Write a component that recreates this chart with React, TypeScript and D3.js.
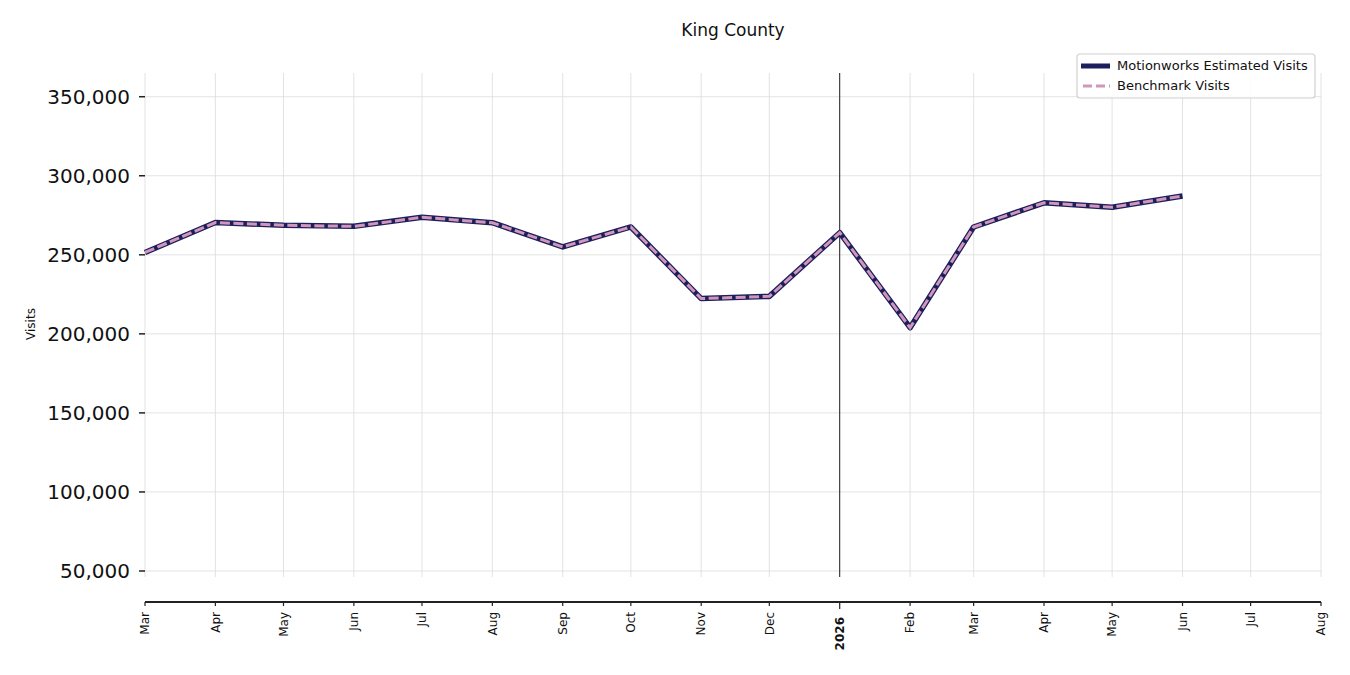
import * as d3 from 'd3';

// monthly points, Mar 2025 .. Jun 2026
const months = [
  '2025-03-01', '2025-04-01', '2025-05-01', '2025-06-01', '2025-07-01', '2025-08-01',
  '2025-09-01', '2025-10-01', '2025-11-01', '2025-12-01', '2026-01-01', '2026-02-01',
  '2026-03-01', '2026-04-01', '2026-05-01', '2026-06-01'
];
const estimatedVisits = [
  251500, 270400, 268700, 268000, 273700, 270300, 255000, 267600,
  222300, 223700, 264000, 203900, 267600, 282900, 280100, 287200
];
const benchmarkVisits = [
  251500, 270400, 268700, 268000, 273700, 270300, 255000, 267600,
  222300, 223700, 264000, 203900, 267600, 282900, 280100, 287200
];
const yTicks = [50000, 100000, 150000, 200000, 250000, 300000, 350000];

const W = 1350;
const H = 675;
const left = 145;
const right = 1321;
const top = 73;
const bottom = 577;
const axisY = 602;

const navy = '#1c1f5c';
const pink = '#d296bb';
const font = 'DejaVu Sans, sans-serif';

const App = () => {
  const parse = d3.utcParse('%Y-%m-%d');
  const dates = months.map(m => parse(m) as Date);

  const x = d3
    .scaleUtc()
    .domain([new Date(Date.UTC(2025, 2, 1)), new Date(Date.UTC(2026, 7, 1))])
    .range([left, right]);

  const y = d3.scaleLinear().domain([46200, 365000]).range([bottom, top]);

  const xTicks = x.ticks(d3.utcMonth.every(1)!);
  const fmt = d3.format(',');

  const line = d3
    .line<number>()
    .x((_, i) => x(dates[i]))
    .y(d => y(d));

  const janLine = x(new Date(Date.UTC(2026, 0, 1)));

  return (
    <svg
      width={W}
      height={H}
      style={{ position: 'absolute', left: 0, top: 0, background: '#fff' }}
      fontFamily={font}
    >
      <text x={(left + right) / 2} y={36} textAnchor="middle" fontSize={17} fill="#111">
        King County
      </text>

      {/* grid */}
      {yTicks.map(t => (
        <line key={'gy' + t} x1={left} x2={right} y1={y(t)} y2={y(t)} stroke="#dcdcdc" strokeWidth={0.8} />
      ))}
      {xTicks.map(t => (
        <line key={'gx' + t.getTime()} x1={x(t)} x2={x(t)} y1={top} y2={bottom} stroke="#dcdcdc" strokeWidth={0.8} />
      ))}

      {/* y axis ticks */}
      {yTicks.map(t => (
        <g key={'yt' + t}>
          <line x1={left - 6} x2={left} y1={y(t)} y2={y(t)} stroke="#222" strokeWidth={1.5} />
          <text x={left - 15} y={y(t)} dy="0.36em" textAnchor="end" fontSize={20} fill="#111">
            {fmt(t)}
          </text>
        </g>
      ))}
      <text transform={`translate(35,324) rotate(-90)`} textAnchor="middle" fontSize={12} fill="#111">
        Visits
      </text>

      {/* x axis */}
      <line x1={left} x2={right} y1={axisY} y2={axisY} stroke="#222" strokeWidth={1.8} />
      {xTicks.map(t => {
        const isYear = t.getUTCMonth() === 0;
        const tx = x(t);
        return (
          <g key={'xt' + t.getTime()}>
            <line x1={tx} x2={tx} y1={axisY} y2={axisY + (isYear ? 7 : 4)} stroke="#222" strokeWidth={1.2} />
            <text
              transform={`translate(${tx},${isYear ? 617 : 612}) rotate(-90)`}
              textAnchor="end"
              dy="0.35em"
              fontSize={12}
              fontWeight={isYear ? 'bold' : 'normal'}
              fill="#111"
            >
              {isYear ? d3.utcFormat('%Y')(t) : d3.utcFormat('%b')(t)}
            </text>
          </g>
        );
      })}

      <line x1={janLine} x2={janLine} y1={top} y2={bottom} stroke="#222" strokeWidth={1} />

      {/* series */}
      <path d={line(estimatedVisits) || ''} fill="none" stroke={navy} strokeWidth={5.5} strokeLinejoin="round" />
      <path
        d={line(benchmarkVisits) || ''}
        fill="none"
        stroke={pink}
        strokeWidth={3}
        strokeDasharray="10,3.5"
      />

      {/* legend */}
      <g>
        <rect x={1077} y={54} width={238} height={44} rx={3} fill="#fff" fillOpacity={0.85} stroke="#d0d0d0" strokeWidth={1.2} />
        <line x1={1081} x2={1110} y1={66} y2={66} stroke={navy} strokeWidth={5} />
        <text x={1117} y={70} fontSize={13} fill="#111">Motionworks Estimated Visits</text>
        <line x1={1083} x2={1110} y1={86} y2={86} stroke={pink} strokeWidth={3} strokeDasharray="9,4" />
        <text x={1117} y={90} fontSize={13} fill="#111">Benchmark Visits</text>
      </g>
    </svg>
  );
};

export default App;
